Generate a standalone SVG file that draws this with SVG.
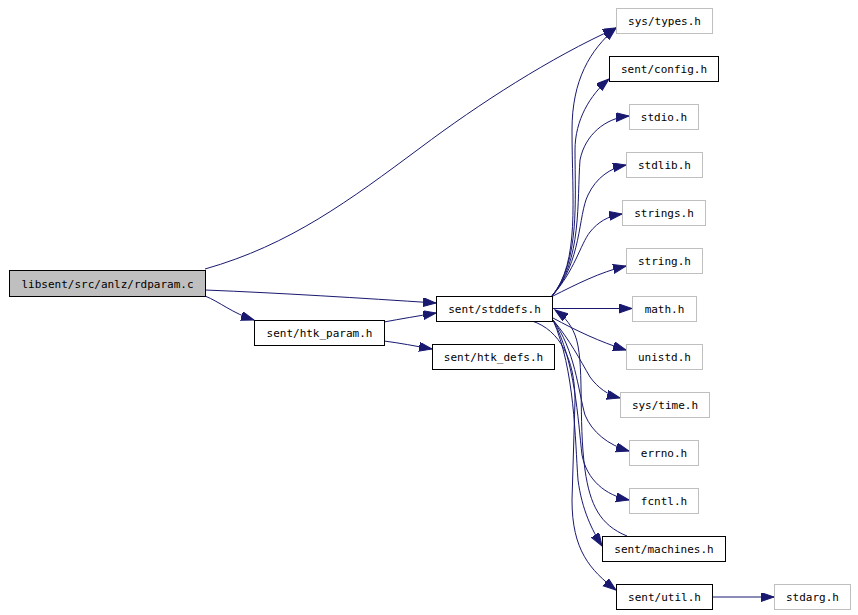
<svg xmlns="http://www.w3.org/2000/svg" width="858" height="615" viewBox="0 0 858 615">
<style>
.n rect{fill:#ffffff;stroke:#000000;stroke-width:1}
.n.g rect{stroke:#bfbfbf}
.n.root rect{fill:#bfbfbf}
.n text{font-family:"DejaVu Sans Mono","Liberation Mono",monospace;font-size:11px;fill:#000000;text-anchor:middle}
#edges path{fill:none;stroke:#191970;stroke-width:1;marker-end:url(#ah)}
</style>
<defs>
<marker id="ah" markerUnits="userSpaceOnUse" markerWidth="14" markerHeight="10" refX="13" refY="4.5" orient="auto">
<path d="M0,0 L13,4.5 L0,9 z" fill="#191970" stroke="#191970" stroke-width="1"/>
</marker>
</defs>
<rect width="858" height="615" fill="#ffffff"/>
<g id="edges">
<path d="M205,269 C290,245 350,200 420,148 C480,103 550,58 616,28"/>
<path d="M205,290 C280,293 360,298 436,303"/>
<path d="M205,296 C220,302 232,313 254,320"/>
<path d="M384,322 C400,319 418,316 436,313"/>
<path d="M384,341 C400,343 415,346 432,349"/>
<path d="M552,296 C580,262 572,200 572,130 C572,80 590,50 616,28"/>
<path d="M552,296 C580,262 575,200 575,150 C575,120 590,95 609,79"/>
<path d="M552,296 C582,262 577,200 580,160 C585,135 605,118 629,116"/>
<path d="M552,296 C582,262 578,215 588,195 C596,178 610,168 626,165"/>
<path d="M552,296 C575,270 580,245 590,232 C598,222 608,216 622,214"/>
<path d="M553,296 C575,285 600,272 626,266"/>
<path d="M553,308.5 L632,308.5"/>
<path d="M553,318 C575,330 600,342 626,350"/>
<path d="M553,320 C570,340 580,360 590,377 C598,388 608,395 620,398"/>
<path d="M553,320 C575,350 578,390 585,415 C592,432 608,445 629,451"/>
<path d="M553,320 C575,360 578,420 582,455 C587,480 605,495 629,500"/>
<path d="M553,320 C575,370 575,440 578,480 C582,510 592,530 602,546"/>
<path d="M532,321 C560,330 575,360 575,400 L572,500 C572,550 590,570 616,590"/>
<path d="M627,536 C600,525 590,505 585,470 C578,420 585,360 575,335 C570,322 562,315 555,310"/>
<path d="M712,597 L774,597"/>
</g>
<g id="n_rdparam" class="n root"><rect x="9.5" y="270.5" width="196" height="26"/><text x="107.5" y="287.5">libsent/src/anlz/rdparam.c</text></g>
<g id="n_htk_param" class="n"><rect x="254.5" y="320.5" width="130" height="25"/><text x="319.5" y="337">sent/htk_param.h</text></g>
<g id="n_stddefs" class="n"><rect x="436.5" y="296.5" width="116" height="25"/><text x="494.5" y="313">sent/stddefs.h</text></g>
<g id="n_htk_defs" class="n"><rect x="432.5" y="344.5" width="122" height="25"/><text x="493.5" y="361">sent/htk_defs.h</text></g>
<g id="n_sys_types" class="n g"><rect x="616.5" y="8.5" width="96" height="25"/><text x="664.5" y="25">sys/types.h</text></g>
<g id="n_config" class="n"><rect x="609.5" y="56.5" width="109" height="25"/><text x="664" y="73">sent/config.h</text></g>
<g id="n_stdio" class="n g"><rect x="629.5" y="104.5" width="69" height="25"/><text x="664" y="121">stdio.h</text></g>
<g id="n_stdlib" class="n g"><rect x="626.5" y="152.5" width="76" height="25"/><text x="664.5" y="169">stdlib.h</text></g>
<g id="n_strings" class="n g"><rect x="622.5" y="200.5" width="83" height="25"/><text x="664" y="217">strings.h</text></g>
<g id="n_string" class="n g"><rect x="626.5" y="248.5" width="76" height="25"/><text x="664.5" y="265">string.h</text></g>
<g id="n_math" class="n g"><rect x="632.5" y="296.5" width="64" height="25"/><text x="664.5" y="313">math.h</text></g>
<g id="n_unistd" class="n g"><rect x="626.5" y="344.5" width="76" height="25"/><text x="664.5" y="361">unistd.h</text></g>
<g id="n_sys_time" class="n g"><rect x="620.5" y="392.5" width="89" height="25"/><text x="665" y="409">sys/time.h</text></g>
<g id="n_errno" class="n g"><rect x="629.5" y="440.5" width="69" height="25"/><text x="664" y="457">errno.h</text></g>
<g id="n_fcntl" class="n g"><rect x="629.5" y="488.5" width="69" height="25"/><text x="664" y="505">fcntl.h</text></g>
<g id="n_machines" class="n"><rect x="602.5" y="536.5" width="123" height="25"/><text x="664" y="553">sent/machines.h</text></g>
<g id="n_util" class="n"><rect x="616.5" y="584.5" width="96" height="25"/><text x="664.5" y="601">sent/util.h</text></g>
<g id="n_stdarg" class="n g"><rect x="774.5" y="584.5" width="76" height="25"/><text x="812.5" y="601">stdarg.h</text></g>
</svg>
